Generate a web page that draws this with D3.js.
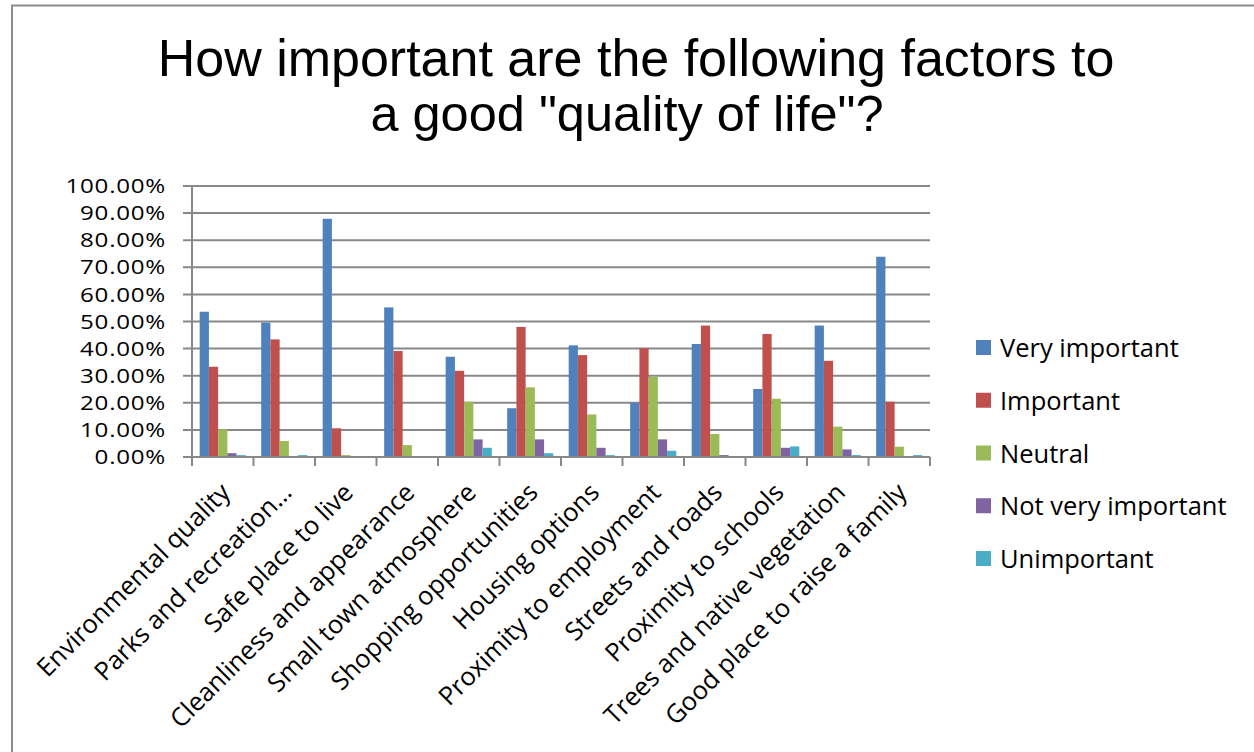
<!DOCTYPE html>
<html><head><meta charset="utf-8">
<script src="https://cdn.jsdelivr.net/npm/d3@7"></script>
<style>html,body{margin:0;padding:0;background:#fff;}svg{display:block;}</style>
</head><body>
<svg id="chart" width="1254" height="752"></svg>
<script>
const categories = ["Environmental quality","Parks and recreation…","Safe place to live","Cleanliness and appearance","Small town atmosphere","Shopping opportunities","Housing options","Proximity to employment","Streets and roads","Proximity to schools","Trees and native vegetation","Good place to raise a family"];
const seriesNames = ["Very important","Important","Neutral","Not very important","Unimportant"];
const veryImportant = [53.6, 49.6, 87.9, 55.2, 37.0, 18.0, 41.2, 20.0, 41.7, 25.1, 48.5, 73.9];
const important     = [33.3, 43.4, 10.6, 39.1, 31.8, 48.0, 37.6, 40.1, 48.5, 45.4, 35.5, 20.4];
const neutral       = [10.2, 5.9, 0.7, 4.4, 20.4, 25.7, 15.7, 29.6, 8.5, 21.5, 11.2, 3.8];
const notVeryImportant = [1.4, 0, 0, 0, 6.5, 6.5, 3.4, 6.5, 0.7, 3.4, 2.8, 0];
const unimportant   = [0.7, 0.7, 0, 0, 3.4, 1.4, 0.7, 2.3, 0, 3.9, 0.7, 0.7];
const yTicks = [0,10,20,30,40,50,60,70,80,90,100];
const titleLines = ["How important are the following factors to", "a good \"quality of life\"?"];
const colors = ["#4F81BD","#C0504D","#9BBB59","#8064A2","#4BACC6"];

(function(){
const seriesValues = [veryImportant, important, neutral, notVeryImportant, unimportant];
const svg = d3.select("#chart");
const pLeft = 192, pRight = 930, pTop = 186, pBottom = 457;
const grid = "#888888";

svg.append("path").attr("d","M12,752 L12,5.5 L1254,5.5").attr("fill","none").attr("stroke","#8c8c8c").attr("stroke-width",2);

svg.append("text").attr("x",636).attr("y",76).attr("text-anchor","middle")
  .attr("font-family","Liberation Sans, Arial, sans-serif").attr("font-size",52).attr("fill","#000").text(titleLines[0]);
svg.append("text").attr("x",627).attr("y",131).attr("text-anchor","middle")
  .attr("font-family","Liberation Sans, Arial, sans-serif").attr("font-size",50.5).attr("fill","#000").text(titleLines[1]);

const x = d3.scaleBand().domain(categories).range([pLeft,pRight]).paddingInner(0.25).paddingOuter(0.125);
const xs = d3.scaleBand().domain(seriesNames).range([0,x.bandwidth()]);
const y = d3.scaleLinear().domain([0,100]).range([pBottom,pTop]);

svg.append("g").selectAll("line").data(yTicks).join("line")
  .attr("x1",pLeft-9).attr("x2",pRight).attr("y1",d=>y(d)).attr("y2",d=>y(d))
  .attr("stroke",grid).attr("stroke-width",2);

svg.append("g").selectAll("text").data(yTicks).join("text")
  .attr("transform",d=>`translate(166,${y(d)}) scale(1.22,1)`)
  .attr("dy","0.36em").attr("text-anchor","end").attr("letter-spacing",0.6)
  .attr("font-family","Open Sans, sans-serif").attr("font-size",19.8).attr("fill","#000")
  .text(d=>d3.format(".2f")(d)+"%");

const groups = svg.append("g").selectAll("g").data(categories).join("g")
  .attr("transform",d=>`translate(${x(d)},0)`);
groups.selectAll("rect").data((c,i)=>seriesNames.map((s,j)=>({s,v:seriesValues[j][i],j})))
  .join("rect")
  .attr("x",d=>xs(d.s)).attr("width",xs.bandwidth())
  .attr("y",d=>y(d.v)).attr("height",d=>pBottom-y(d.v))
  .attr("fill",d=>colors[d.j]);

svg.append("line").attr("x1",pLeft).attr("x2",pLeft).attr("y1",pTop).attr("y2",pBottom+1).attr("stroke",grid).attr("stroke-width",2);
svg.append("line").attr("x1",pLeft).attr("x2",pRight).attr("y1",pBottom).attr("y2",pBottom).attr("stroke",grid).attr("stroke-width",2);
const step = x.step();
const bounds = d3.range(categories.length+1).map(i=>pLeft + i*step);
svg.append("g").selectAll("line").data(bounds).join("line")
  .attr("x1",d=>d).attr("x2",d=>d).attr("y1",pBottom).attr("y2",pBottom+9)
  .attr("stroke",grid).attr("stroke-width",2);

svg.append("g").selectAll("text").data(categories).join("text")
  .attr("transform",d=>`translate(${x(d)+x.bandwidth()/2+9},${pBottom+37}) rotate(-45)`)
  .attr("text-anchor","end")
  .attr("font-family","Open Sans, sans-serif").attr("font-size",25.5).attr("fill","#000")
  .text(d=>d);

const lg = svg.append("g").selectAll("g").data(seriesNames).join("g")
  .attr("transform",(d,i)=>`translate(976,${348 + i*52.75})`);
lg.append("rect").attr("x",0).attr("y",-8).attr("width",15).attr("height",15).attr("fill",(d,i)=>colors[i]);
lg.append("text").attr("x",24).attr("y",0).attr("dy","0.36em")
  .attr("font-family","Open Sans, sans-serif").attr("font-size",25.5).attr("fill","#000").text(d=>d);
})();
</script>
</body></html>
